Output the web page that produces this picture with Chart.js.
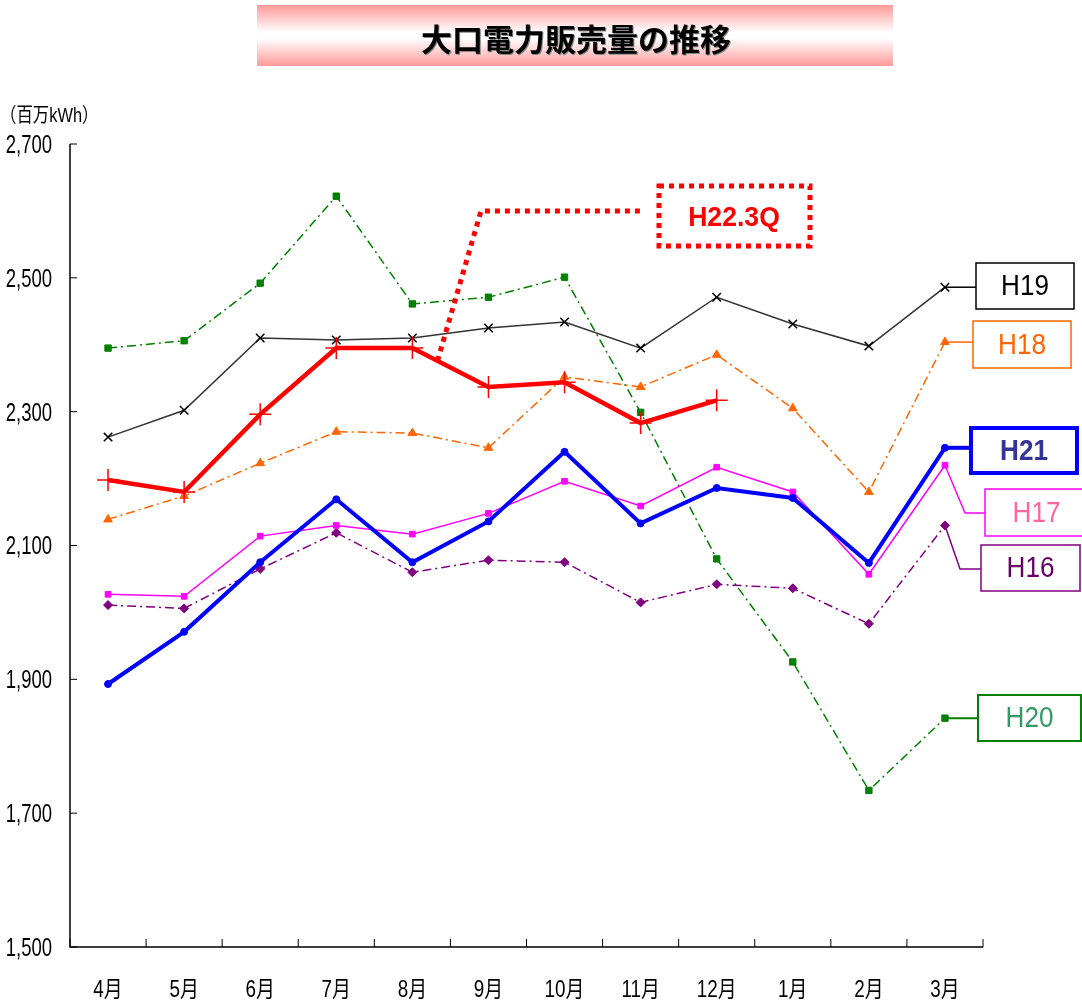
<!DOCTYPE html>
<html>
<head>
<meta charset="utf-8">
<script src="https://cdn.jsdelivr.net/npm/chart.js@4.4.0/dist/chart.umd.min.js"></script>
<style>
html, body { margin: 0; padding: 0; background: #fff; overflow: hidden; }
</style>
</head>
<body>
<canvas id="chart" width="1082" height="1007"></canvas>
<script>
// data (百万kWh)
const months = ['4月', '5月', '6月', '7月', '8月', '9月', '10月', '11月', '12月', '1月', '2月', '3月'];
const h16 = [2011, 2006, 2065, 2119, 2060, 2078, 2075, 2015, 2042, 2036, 1983, 2130];
const h17 = [2027, 2024, 2114, 2130, 2117, 2148, 2196, 2159, 2217, 2180, 2057, 2220];
const h18 = [2139, 2174, 2223, 2270, 2268, 2246, 2352, 2337, 2385, 2305, 2180, 2404];
const h19 = [2262, 2302, 2410, 2407, 2410, 2425, 2434, 2395, 2471, 2431, 2398, 2486];
const h20 = [2395, 2406, 2492, 2622, 2461, 2471, 2501, 2299, 2080, 1926, 1734, 1842];
const h21 = [1893, 1971, 2075, 2169, 2075, 2136, 2240, 2133, 2186, 2171, 2074, 2246];
const h22 = [2198, 2180, 2296, 2395, 2395, 2337, 2344, 2283, 2317, null, null, null];
const yMin = 1500, yMax = 2700, yStep = 200;

const numFont = "'Liberation Sans', 'Noto Sans CJK JP', sans-serif";
const dashDot = [9, 4, 2, 4];

// label boxes on the right side
const tags = [
    { text: 'H19', data: h19, box: [976, 263, 98, 46], line: '#000000', border: '#000000', color: '#000000', lw: 1.5 },
    { text: 'H18', data: h18, box: [973, 321, 98, 47], line: '#ff6600', border: '#ff6600', color: '#ff6600', lw: 1.5 },
    { text: 'H21', data: h21, box: [971, 428, 106, 45], line: '#0000ff', border: '#0000ff', color: '#333399', lw: 4, bold: true },
    { text: 'H17', data: h17, box: [985, 489, 110, 47], line: '#ff00ff', border: '#ff00ff', color: '#ff6699', lw: 1.5, bend: [965, 513] },
    { text: 'H16', data: h16, box: [981, 545, 99, 46], line: '#800080', border: '#800080', color: '#660066', lw: 1.5, bend: [960, 569] },
    { text: 'H20', data: h20, box: [978, 695, 103, 46], line: '#008000', border: '#008000', color: '#339966', lw: 2 }
];

// narrow text like the original's gothic font
function narrowText(ctx, text, x, y, sx, align) {
    ctx.save();
    ctx.translate(x, y);
    ctx.scale(sx, 1);
    ctx.textAlign = align;
    ctx.fillText(text, 0, 0);
    ctx.restore();
}

const decor = {
    id: 'decor',
    beforeDraw(chart) {
        const ctx = chart.ctx;
        // title banner
        ctx.save();
        const g = ctx.createLinearGradient(0, 5, 0, 66);
        g.addColorStop(0, '#ff9999');
        g.addColorStop(0.45, '#ffffff');
        g.addColorStop(0.55, '#ffffff');
        g.addColorStop(1, '#ff9999');
        ctx.fillStyle = g;
        ctx.fillRect(257, 5, 636, 61);
        ctx.font = "bold 31px 'Noto Sans CJK JP', sans-serif";
        ctx.textAlign = 'center';
        ctx.textBaseline = 'middle';
        ctx.fillStyle = '#888';
        ctx.fillText('大口電力販売量の推移', 577, 40);
        ctx.fillStyle = '#000';
        ctx.fillText('大口電力販売量の推移', 576, 39);
        // unit
        ctx.font = "20px " + numFont;
        ctx.textBaseline = 'middle';
        narrowText(ctx, '（百万kWh）', 0, 116, 0.82, 'left');
        ctx.restore();
    },
    afterDatasetsDraw(chart) {
        const ctx = chart.ctx;
        const xs = chart.scales.x, ys = chart.scales.y;
        const a = chart.chartArea;
        ctx.save();
        // axes
        ctx.strokeStyle = '#000';
        ctx.lineWidth = 1.5;
        ctx.beginPath();
        ctx.moveTo(a.left, a.top);
        ctx.lineTo(a.left, a.bottom);
        ctx.lineTo(a.right, a.bottom);
        ctx.stroke();
        ctx.lineWidth = 1;
        ctx.beginPath();
        ys.ticks.forEach(t => {
            const y = ys.getPixelForValue(t.value);
            ctx.moveTo(a.left, y);
            ctx.lineTo(a.left + 7, y);
        });
        for (let i = 0; i <= months.length; i++) {
            const x = xs.getPixelForValue(i - 0.5);
            ctx.moveTo(x, a.bottom);
            ctx.lineTo(x, a.bottom - 8);
        }
        ctx.stroke();

        // tick labels from the scales
        ctx.fillStyle = '#000';
        ctx.textBaseline = 'middle';
        ctx.font = "25px " + numFont;
        ys.ticks.forEach(t => {
            narrowText(ctx, t.value.toLocaleString('en-US'), 52, ys.getPixelForValue(t.value) + 2, 0.74, 'right');
        });
        ctx.font = "23px " + numFont;
        xs.ticks.forEach((t, i) => {
            narrowText(ctx, xs.getLabelForValue(t.value), xs.getPixelForValue(i), 991, 0.82, 'center');
        });

        // tags
        const last = months.length - 1;
        const px = xs.getPixelForValue(last);
        tags.forEach(t => {
            const py = ys.getPixelForValue(t.data[last]);
            const [bx, by, bw, bh] = t.box;
            ctx.strokeStyle = t.line;
            ctx.lineWidth = t.lw;
            ctx.beginPath();
            ctx.moveTo(px, py);
            if (t.bend) {
                ctx.lineTo(t.bend[0], t.bend[1]);
                ctx.lineTo(bx, t.bend[1]);
            } else {
                ctx.lineTo(bx, py);
            }
            ctx.stroke();
            ctx.fillStyle = '#fff';
            ctx.fillRect(bx, by, bw, bh);
            ctx.strokeStyle = t.border;
            ctx.lineWidth = t.lw;
            ctx.strokeRect(bx, by, bw, bh);
            ctx.fillStyle = t.color;
            ctx.font = (t.bold ? 'bold ' : '') + "29px 'Liberation Sans', Arial, sans-serif";
            ctx.textBaseline = 'middle';
            narrowText(ctx, t.text, bx + Math.min(bw, 1082 - bx) / 2 + (t.text === 'H17' ? 3 : 0), by + bh / 2 + 1, 0.9, 'center');
        });

        // H22.3Q callout
        const sx = xs.getPixelForValue(4.33);
        const sy = ys.getPixelForValue(h22[4] + (h22[5] - h22[4]) * 0.33);
        ctx.strokeStyle = '#ff0000';
        ctx.lineWidth = 5;
        ctx.setLineDash([5, 5]);
        ctx.beginPath();
        ctx.moveTo(sx, sy);
        ctx.lineTo(481, 211);
        ctx.lineTo(642, 211);
        ctx.stroke();
        ctx.strokeRect(659, 186, 151, 60);
        ctx.setLineDash([]);
        ctx.fillStyle = '#ff0000';
        ctx.font = "bold 28px 'Liberation Sans', Arial, sans-serif";
        ctx.textBaseline = 'middle';
        narrowText(ctx, 'H22.3Q', 734, 218, 0.95, 'center');
        ctx.restore();
    }
};

function ds(label, data, color, opts) {
    return Object.assign({
        label: label,
        data: data,
        borderColor: color,
        backgroundColor: color,
        pointBorderColor: color,
        pointBackgroundColor: color,
        borderWidth: 1.5,
        pointBorderWidth: 1,
        tension: 0,
        fill: false,
        spanGaps: false
    }, opts);
}

new Chart(document.getElementById('chart'), {
    type: 'line',
    data: {
        labels: months,
        datasets: [
            ds('H22', h22, '#ff0000', { borderWidth: 4.5, pointStyle: 'cross', pointRadius: 11, pointBorderWidth: 1.5 }),
            ds('H21', h21, '#0000ff', { borderWidth: 4, pointStyle: 'circle', pointRadius: 3.5 }),
            ds('H17', h17, '#ff00ff', { pointStyle: 'rect', pointRadius: 4 }),
            ds('H19', h19, '#333333', { pointStyle: 'crossRot', pointRadius: 6, pointBorderColor: '#000', pointBorderWidth: 1.5 }),
            ds('H18', h18, '#ff6600', { borderDash: dashDot, pointStyle: 'triangle', pointRadius: 5 }),
            ds('H16', h16, '#800080', { borderDash: dashDot, pointStyle: 'rectRot', pointRadius: 4.5 }),
            ds('H20', h20, '#008000', { borderDash: dashDot, pointStyle: 'rect', pointRadius: 4.5 })
        ]
    },
    options: {
        responsive: false,
        animation: false,
        layout: { autoPadding: false, padding: { top: 144, right: 99, left: 0, bottom: 0 } },
        plugins: { legend: { display: false }, tooltip: { enabled: false }, title: { display: false } },
        scales: {
            x: {
                offset: true,
                grid: { display: false, drawTicks: false },
                border: { display: false },
                afterFit: s => { s.height = 60; },
                ticks: { display: false, autoSkip: false, maxRotation: 0 }
            },
            y: {
                min: yMin,
                max: yMax,
                grid: { display: false, drawTicks: false },
                border: { display: false },
                afterFit: s => { s.width = 70; },
                ticks: { display: false, stepSize: yStep }
            }
        }
    },
    plugins: [decor]
});
</script>
</body>
</html>
